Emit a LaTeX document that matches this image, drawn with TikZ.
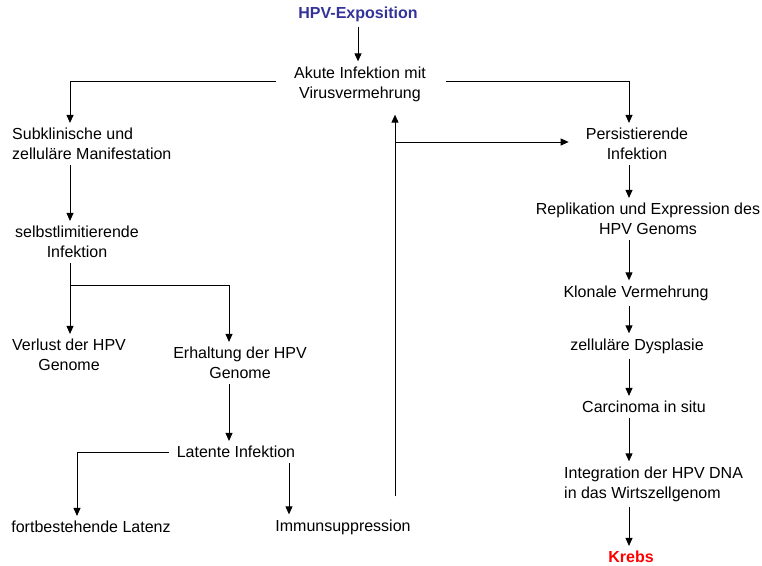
\documentclass[tikz,border=0pt]{standalone}
\usepackage{fontspec}
\setmainfont{Liberation Sans}
\usetikzlibrary{positioning, calc, arrows.meta}
\definecolor{hpvblau}{RGB}{51,51,153}

\begin{document}
\begin{tikzpicture}[x=1pt, y=-1pt,
        txt/.style={font=\fontsize{16}{20}\selectfont, align=center, inner xsep=2pt, inner ysep=5pt},
        pfeil/.style={line width=0.9pt, -{Triangle[length=8pt,width=7pt]}}]
        \useasboundingbox (0,0) rectangle (762,565);

        % columns of the arrows
        \coordinate (lcol)  at (70,0);
        \coordinate (mcol)  at (229,0);
        \coordinate (fcol)  at (77,0);
        \coordinate (icol)  at (289,0);
        \coordinate (rueck) at (395,0);
        \coordinate (rcol)  at (629,0);
        \coordinate (knick) at (0,285);
        \coordinate (abzw)  at (0,142);

        % top
        \node[txt, font=\fontsize{16}{20}\selectfont\bfseries, text=hpvblau] (expo) at (358,14) {HPV-Exposition};
        \node[txt] (akut) at (360,84) {Akute Infektion mit\\Virusvermehrung};

        % left branch
        \node[txt, anchor=west, align=left] (subkl) at (10,144) {Subklinische und\\zelluläre Manifestation};
        \node[txt] (selbst)  at (77,242)  {selbstlimitierende\\Infektion};
        \node[txt] (verlust) at (69,355)  {Verlust der HPV\\Genome};
        \node[txt] (erhalt)  at (240,363) {Erhaltung der HPV\\Genome};
        \node[txt] (latent)  at (236,452) {Latente Infektion};
        \node[txt] (fortb)   at (91,527)  {fortbestehende Latenz};
        \node[txt] (immun)   at (343,527) {Immunsuppression};

        % right branch
        \node[txt] (persist) at (637,144) {Persistierende\\Infektion};
        \node[txt] (repl)    at (648,219) {Replikation und Expression des\\HPV Genoms};
        \node[txt] (klonal)  at (636,293) {Klonale Vermehrung};
        \node[txt] (dysp)    at (637,346) {zelluläre Dysplasie};
        \node[txt] (carc)    at (644,407) {Carcinoma in situ};
        \node[txt, anchor=west, align=left] (integ) at (562,484) {Integration der HPV DNA\\in das Wirtszellgenom};
        \node[txt, font=\fontsize{16}{20}\selectfont\bfseries, text=red] (krebs) at (631,557) {Krebs};

        % arrows
        \draw[pfeil] (expo.south) -- (expo.south |- akut.north);
        \draw[pfeil] ($(akut.west)+(-16,-3)$) -| (subkl.north -| lcol);
        \draw[pfeil] ($(akut.east)+(18,-3)$) -| (persist.north -| rcol);

        \draw[pfeil] (subkl.south -| lcol) -- (selbst.north -| lcol);
        \draw[pfeil] (selbst.south -| lcol) -- (verlust.north -| lcol);
        \draw[pfeil] (lcol |- knick) -| (erhalt.north -| mcol);
        \draw[pfeil] (erhalt.south -| mcol) -- (latent.north -| mcol);
        \draw[pfeil] ($(latent.west)+(-6,0)$) -| (fortb.north -| fcol);
        \draw[pfeil] (latent.south -| icol) -- (immun.north -| icol);

        % back to the acute infection
        \draw[pfeil] ($(immun.north -| rueck)+(0,-18)$) -- ($(akut.south -| rueck)+(0,8)$);
        \draw[pfeil] (rueck |- abzw) -- ($(persist.west |- abzw)+(-15,0)$);

        \draw[pfeil] (persist.south -| rcol) -- (repl.north -| rcol);
        \draw[pfeil] (repl.south -| rcol) -- (klonal.north -| rcol);
        \draw[pfeil] (klonal.south -| rcol) -- (dysp.north -| rcol);
        \draw[pfeil] (dysp.south -| rcol) -- (carc.north -| rcol);
        \draw[pfeil] (carc.south -| rcol) -- (integ.north -| rcol);
        \draw[pfeil] (integ.south -| rcol) -- (krebs.north -| rcol);
\end{tikzpicture}
\end{document}
